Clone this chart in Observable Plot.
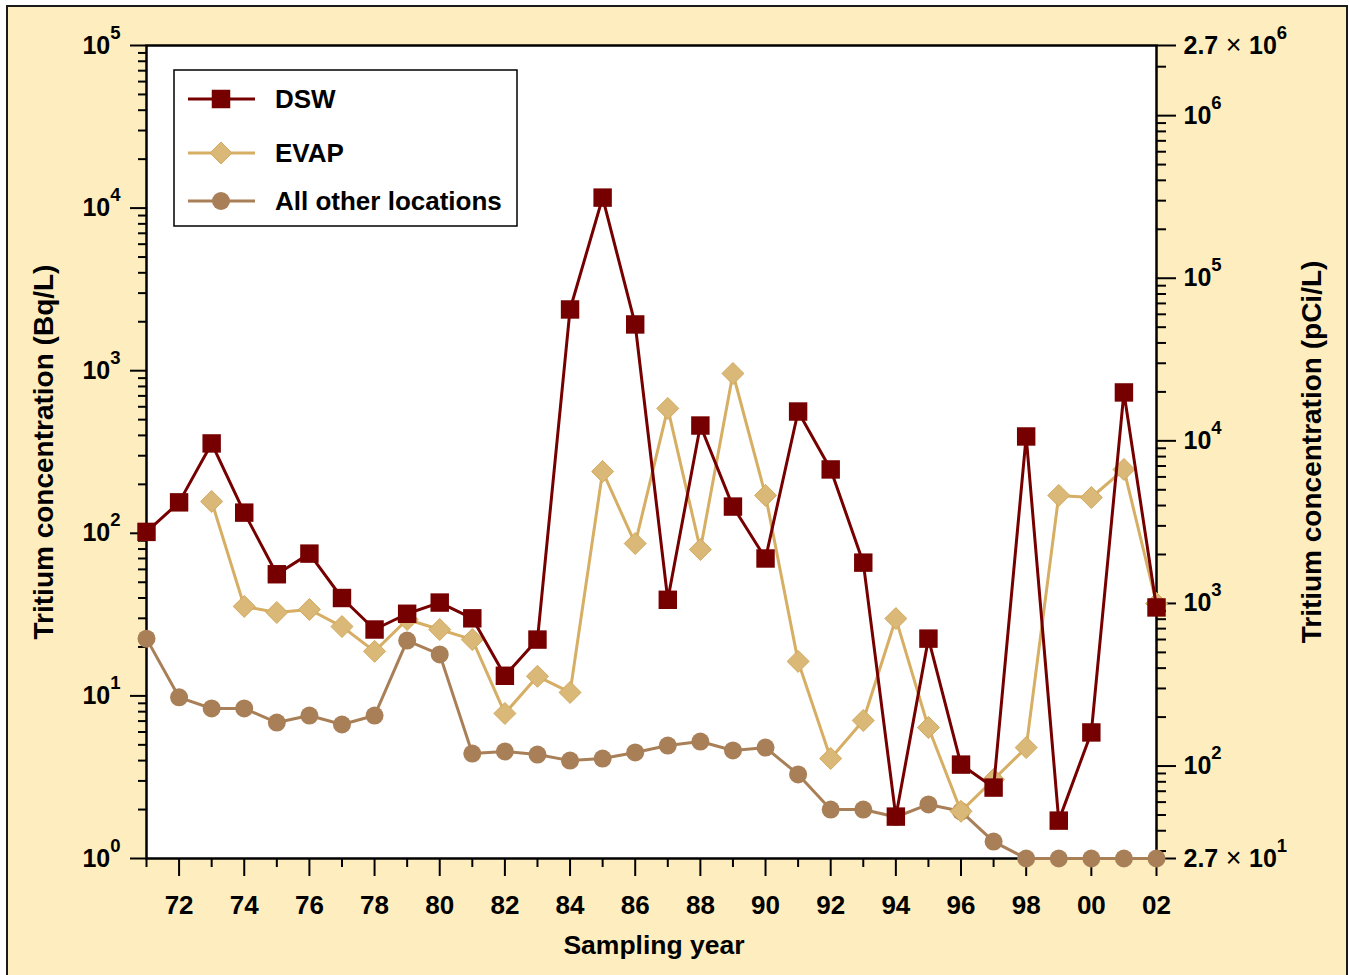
<!DOCTYPE html>
<html><head><meta charset="utf-8">
<script src="https://cdn.jsdelivr.net/npm/d3@7"></script>
<script src="https://cdn.jsdelivr.net/npm/@observablehq/plot@0.6"></script>
<style>
html,body{margin:0;padding:0;background:#fff;}
#wrap{position:relative;width:1349px;height:975px;overflow:hidden;}
#bg{position:absolute;left:6px;top:5px;width:1338px;height:1000px;border:2px solid #1a1a1a;background:#FEEEBF;}
#chart{position:absolute;left:0;top:0;}
</style></head><body>
<div id="wrap"><div id="bg"></div><div id="chart"></div></div>
<script>
// ---- data (Bq/L) ----
const years = d3.range(1971, 2003);
const dsw = [102,155,357,134,56,75,40,25.6,32,37.5,30,13.3,22.2,2380,11600,1925,39,460,146,70,561,247,66,1.81,22.5,3.78,2.73,394,1.71,5.96,735,35];
const evap = [null,null,157,35.5,32.6,34,26.7,18.8,29.5,25.6,22.2,7.8,13.2,10.5,240,86.5,586,79.5,961,171,16.3,4.12,7.06,29.9,6.39,1.95,3.06,4.81,171,166,247,37];
const other = [22.5,9.8,8.37,8.37,6.86,7.57,6.67,7.57,21.9,18,4.42,4.55,4.36,4.0,4.12,4.49,4.95,5.24,4.62,4.81,3.29,2.0,2.0,1.8,2.15,1.95,1.27,1,1,1,1,1];
const seriesNames = ["DSW", "EVAP", "All other locations"];

// ---- tick definitions ----
const evenYears = years.filter(y => y % 2 === 0);
const oddYears = years.filter(y => y % 2 === 1);
const leftMajor = [1, 10, 100, 1000, 10000, 100000];
const leftMinor = [];
for (let e = 0; e < 5; e++) for (let k = 2; k <= 9; k++) leftMinor.push(k * Math.pow(10, e));
const pCiPerBq = 27;
const rightMajorPCi = [27, 1e2, 1e3, 1e4, 1e5, 1e6, 2.7e6];
const rightMajorLabels = ["2.7 × 10^1", "10^2", "10^3", "10^4", "10^5", "10^6", "2.7 × 10^6"];
const rightMinorPCi = [];
for (let e = 1; e <= 6; e++) for (let k = 2; k <= 9; k++) {
  const v = k * Math.pow(10, e);
  if (v > 27 && v < 2.7e6) rightMinorPCi.push(v);
}
const rightMajorBq = rightMajorPCi.map(v => v / pCiPerBq);
const rightMinorBq = rightMinorPCi.map(v => v / pCiPerBq);
const rightTicks = rightMajorBq.map((v, i) => ({value: v, label: rightMajorLabels[i]}));

// ---- styles ----
const colors = {"DSW": "#760000", "EVAP": "#D6AE64", "All other locations": "#A97F57"};
const fills = {"DSW": "#760000", "EVAP": "#DAB878", "All other locations": "#A97F57"};

const rows = (vals, name) => years.map((y, i) => ({year: y, value: vals[i], series: name})).filter(d => d.value != null);
const dOther = rows(other, seriesNames[2]);
const dEvap = rows(evap, seriesNames[1]);
const dDsw = rows(dsw, seriesNames[0]);

const chart = Plot.plot({
  width: 1349, height: 975,
  marginLeft: 146, marginRight: 193, marginTop: 45, marginBottom: 117,
  style: {background: "transparent", fontFamily: "'Liberation Sans', Arial, Helvetica, sans-serif", fontWeight: "bold", fontSize: "25px", color: "black"},
  x: {domain: [1971, 2002], label: null},
  y: {type: "log", domain: [1, 1e5], label: null},
  marks: [
    Plot.frame({fill: "white", stroke: "black", strokeWidth: 2.5}),
    Plot.axisX({ticks: evenYears, tickSize: 18, tickPadding: 19, strokeWidth: 2, stroke: "black", fill: "black", fontSize: 26,
      tickFormat: d => String(d % 100).padStart(2, "0"), label: null}),
    Plot.axisX({ticks: oddYears, tickSize: 9, strokeWidth: 2, stroke: "black", tickFormat: () => "", label: null}),
    Plot.axisY({ticks: leftMajor, tickSize: 16, tickPadding: 10, strokeWidth: 2, stroke: "black", fill: "black",
      tickFormat: d => "10^" + Math.round(Math.log10(d)), label: null}),
    Plot.axisY({ticks: leftMinor, tickSize: 8, strokeWidth: 2, stroke: "black", tickFormat: () => "", label: null}),
    Plot.axisY({anchor: "right", ticks: rightMajorBq, tickSize: 19, strokeWidth: 2, stroke: "black", tickFormat: () => "", label: null}),
    Plot.axisY({anchor: "right", ticks: rightMinorBq, tickSize: 9, strokeWidth: 2, stroke: "black", tickFormat: () => "", label: null}),
    Plot.text(rightTicks, {y: "value", text: "label", frameAnchor: "right", dx: 27, textAnchor: "start",
      fill: "black", fontSize: 25, fontWeight: "bold"}),
    // All other locations
    Plot.line(dOther, {x: "year", y: "value", stroke: colors[seriesNames[2]], strokeWidth: 3}),
    Plot.dot(dOther, {x: "year", y: "value", r: 9, fill: fills[seriesNames[2]], stroke: "none"}),
    // EVAP
    Plot.line(dEvap, {x: "year", y: "value", stroke: colors[seriesNames[1]], strokeWidth: 3}),
    Plot.dot(dEvap, {x: "year", y: "value", symbol: "diamond2", r: 9.9, fill: fills[seriesNames[1]], stroke: "#D2A95D", strokeWidth: 1}),
    // DSW
    Plot.line(dDsw, {x: "year", y: "value", stroke: colors[seriesNames[0]], strokeWidth: 3}),
    Plot.dot(dDsw, {x: "year", y: "value", symbol: "square", r: 10.4, fill: fills[seriesNames[0]], stroke: "none"})
  ]
});

const svg = d3.select(chart);

// superscript formatting of tick labels
svg.selectAll("text").each(function () {
  const t = this.textContent;
  const m = t.match(/^(2\.7 × )?10\^(\d)$/);
  if (!m) return;
  const sel = d3.select(this);
  sel.text(null);
  if (m[1]) {
    sel.append("tspan").text("2.7");
    sel.append("tspan").attr("font-weight", "normal").attr("font-size", 27).text(" × ");
  }
  sel.append("tspan").text("10");
  sel.append("tspan").attr("font-size", 18.5).attr("dy", -15).text(m[2]);
});

// axis titles
const font = "'Liberation Sans', Arial, Helvetica, sans-serif";
svg.append("text").attr("x", 654).attr("y", 954).attr("text-anchor", "middle")
  .attr("font-family", font).attr("font-weight", "bold").attr("font-size", 26.5).attr("fill", "black")
  .text("Sampling year");
svg.append("text").attr("transform", "translate(53,452) rotate(-90)").attr("text-anchor", "middle")
  .attr("font-family", font).attr("font-weight", "bold").attr("font-size", 28).attr("fill", "black")
  .text("Tritium concentration (Bq/L)");
svg.append("text").attr("transform", "translate(1321,452) rotate(-90)").attr("text-anchor", "middle")
  .attr("font-family", font).attr("font-weight", "bold").attr("font-size", 28).attr("fill", "black")
  .text("Tritium concentration (pCi/L)");

// legend
const lg = svg.append("g").attr("class", "legend");
lg.append("rect").attr("x", 174).attr("y", 70).attr("width", 343).attr("height", 156)
  .attr("fill", "white").attr("stroke", "black").attr("stroke-width", 1.5);
const rowsY = [99, 153, 201];
seriesNames.forEach((name, i) => {
  const y = rowsY[i];
  lg.append("line").attr("x1", 188).attr("x2", 255).attr("y1", y).attr("y2", y)
    .attr("stroke", colors[name]).attr("stroke-width", 3);
  if (i === 0) {
    lg.append("rect").attr("x", 221 - 9.25).attr("y", y - 9.25).attr("width", 18.5).attr("height", 18.5).attr("fill", fills[name]);
  } else if (i === 1) {
    lg.append("path").attr("d", `M221,${y - 11}L232,${y}L221,${y + 11}L210,${y}Z`).attr("fill", fills[name]).attr("stroke", "#D2A95D");
  } else {
    lg.append("circle").attr("cx", 221).attr("cy", y).attr("r", 9).attr("fill", fills[name]);
  }
  lg.append("text").attr("x", 275).attr("y", y).attr("dy", "0.36em").attr("text-anchor", "start")
    .attr("font-family", font).attr("font-weight", "bold").attr("font-size", 26).attr("fill", "black")
    .text(name);
});

document.getElementById("chart").appendChild(chart);
</script>
</body></html>
